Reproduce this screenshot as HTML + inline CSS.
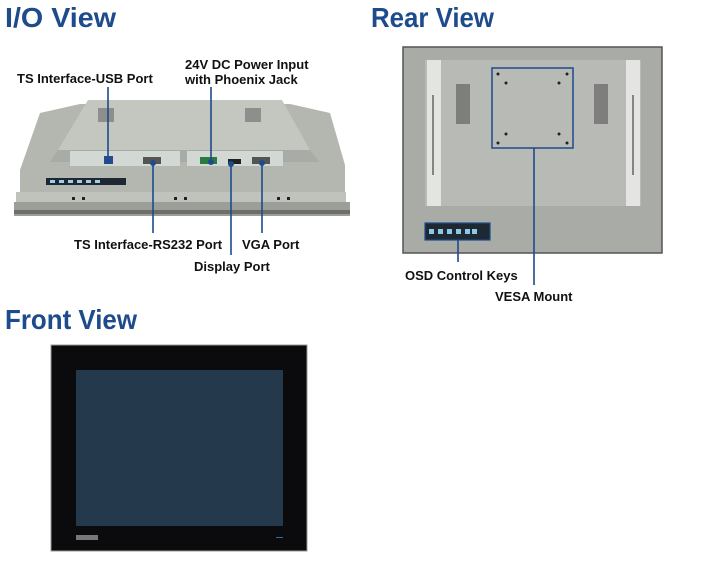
<!DOCTYPE html>
<html><head><meta charset="utf-8"><style>
html,body{margin:0;padding:0;background:#fff;}
svg{display:block}
text{font-family:"Liberation Sans",Arial,sans-serif;}
.t{font-weight:bold;fill:#1d4b8c;font-size:28px}
.l{font-size:13px;fill:#111;font-weight:bold;}
.ln{stroke:#1d4b8c;stroke-width:1.6;fill:none}
</style></head><body>
<svg width="706" height="567" viewBox="0 0 706 567" xmlns="http://www.w3.org/2000/svg">
<text class="t" x="5" y="27" textLength="111" lengthAdjust="spacingAndGlyphs">I/O View</text>
<text class="t" x="371" y="27" textLength="123" lengthAdjust="spacingAndGlyphs">Rear View</text>
<text class="t" x="5" y="329" textLength="132" lengthAdjust="spacingAndGlyphs">Front View</text>

<!-- I/O device -->
<polygon points="80,104 290,104 330,113 345,165 345,200 20,200 20,170 40,113" fill="#b4b6b0"/>
<polygon points="88,100 282,100 310,150 58,150" fill="#c4c6c0"/>
<g fill="#777" opacity="0.7"><rect x="98" y="108" width="16" height="14"/><rect x="245" y="108" width="16" height="14"/></g>
<polygon points="58,150 310,150 320,162 50,162" fill="#a9aca6"/>
<rect x="70" y="151" width="110" height="15" fill="#d2d8d4"/>
<rect x="187" y="151" width="96" height="15" fill="#d2d8d4"/>
<rect x="104" y="156" width="9" height="8" fill="#2a4a8a"/>
<rect x="143" y="157" width="18" height="7" fill="#555"/>
<rect x="200" y="157" width="17" height="7" fill="#2d7a3e"/>
<rect x="228" y="159" width="13" height="5" fill="#222"/>
<rect x="252" y="157" width="18" height="7" fill="#555"/>
<rect x="46" y="178" width="80" height="7" fill="#1d2833"/>
<g fill="#9fd0e8"><rect x="50" y="180" width="5" height="3"/><rect x="59" y="180" width="5" height="3"/><rect x="68" y="180" width="5" height="3"/><rect x="77" y="180" width="5" height="3"/><rect x="86" y="180" width="5" height="3"/><rect x="95" y="180" width="5" height="3"/></g>
<rect x="16" y="192" width="330" height="10" fill="#c0c2bc"/>
<rect x="14" y="202" width="336" height="14" fill="#9c9e99"/>
<rect x="14" y="210" width="336" height="4" fill="#6d6f6b"/>
<g fill="#222"><rect x="72" y="197" width="3" height="3"/><rect x="82" y="197" width="3" height="3"/><rect x="174" y="197" width="3" height="3"/><rect x="184" y="197" width="3" height="3"/><rect x="277" y="197" width="3" height="3"/><rect x="287" y="197" width="3" height="3"/></g>

<text class="l" x="17" y="83">TS Interface-USB Port</text>
<text class="l" x="185" y="69">24V DC Power Input</text>
<text class="l" x="185" y="84">with Phoenix Jack</text>
<text class="l" x="74" y="249">TS Interface-RS232 Port</text>
<text class="l" x="242" y="249">VGA Port</text>
<text class="l" x="194" y="271">Display Port</text>
<path class="ln" d="M108,87V160M211,87V162M153,162V233M231,163V255M262,163V233"/>
<g fill="#1d4b8c"><circle cx="108" cy="161" r="3"/><circle cx="211" cy="162" r="3"/><circle cx="153" cy="163" r="3"/><circle cx="231" cy="164" r="3"/><circle cx="262" cy="163" r="3"/></g>

<!-- Rear -->
<rect x="403" y="47" width="259" height="206" fill="#a9aba7" stroke="#555" stroke-width="1.5"/>
<rect x="425" y="60" width="216" height="146" fill="#b8bab6"/>
<rect x="427" y="60" width="14" height="146" fill="#e4e5e2"/>
<rect x="626" y="60" width="14" height="146" fill="#e4e5e2"/>
<g fill="#444">
<rect x="456" y="84" width="14" height="40" opacity="0.5"/>
<rect x="594" y="84" width="14" height="40" opacity="0.5"/>
<rect x="432" y="95" width="2" height="80" opacity="0.6"/>
<rect x="632" y="95" width="2" height="80" opacity="0.6"/>
</g>
<rect x="492" y="68" width="81" height="80" fill="none" stroke="#1d4b8c" stroke-width="1.5"/>
<g fill="#222"><circle cx="498" cy="74" r="1.5"/><circle cx="567" cy="74" r="1.5"/><circle cx="498" cy="143" r="1.5"/><circle cx="567" cy="143" r="1.5"/><circle cx="506" cy="83" r="1.5"/><circle cx="559" cy="83" r="1.5"/><circle cx="506" cy="134" r="1.5"/><circle cx="559" cy="134" r="1.5"/></g>
<rect x="425" y="223" width="65" height="17" fill="#1d2833" stroke="#1d4b8c" stroke-width="1.2"/>
<g fill="#8fc8e6"><rect x="429" y="229" width="5" height="5"/><rect x="438" y="229" width="5" height="5"/><rect x="447" y="229" width="5" height="5"/><rect x="456" y="229" width="5" height="5"/><rect x="465" y="229" width="5" height="5"/><rect x="472" y="229" width="5" height="5"/></g>
<path class="ln" d="M458,240V262M534,148V285"/>
<text class="l" x="405" y="280">OSD Control Keys</text>
<text class="l" x="495" y="301">VESA Mount</text>

<!-- Front -->
<rect x="51" y="345" width="256" height="206" fill="#0b0b0d" stroke="#999" stroke-width="1"/>
<rect x="76" y="370" width="207" height="156" fill="#24394b"/>
<rect x="76" y="535" width="22" height="5" fill="#777"/>
<rect x="276" y="537" width="7" height="1" fill="#3a6a9a"/>
</svg>
</body></html>
